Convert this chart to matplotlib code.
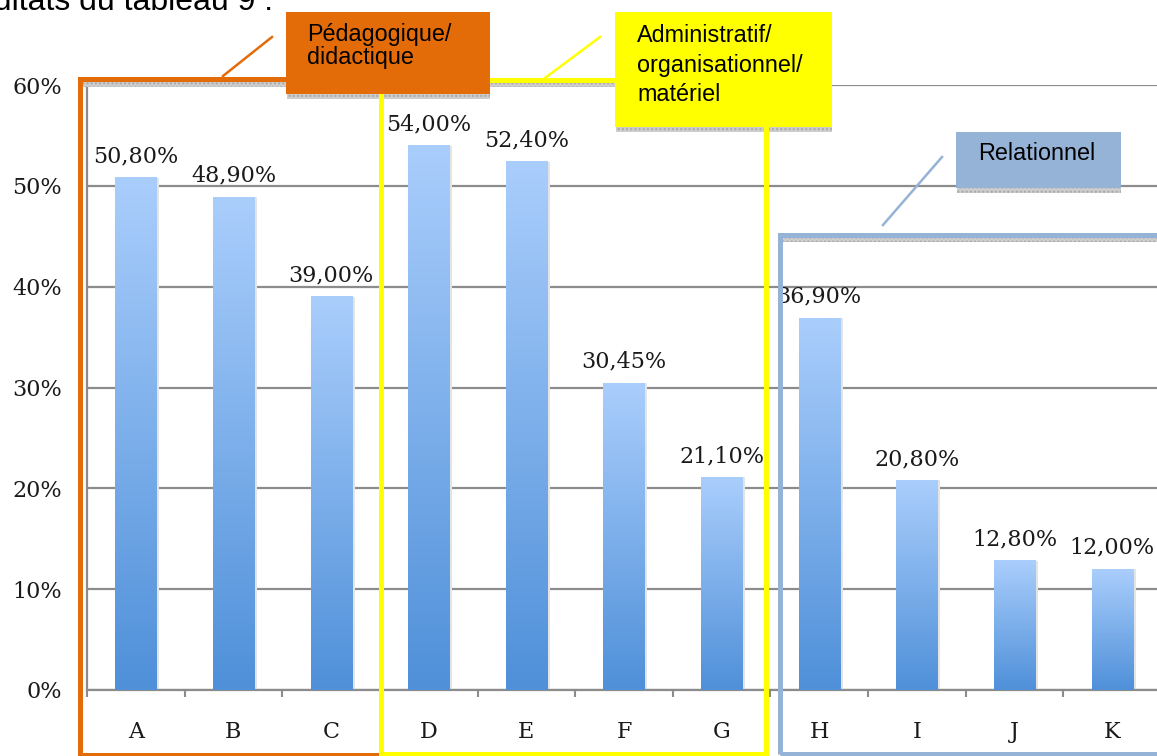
import numpy as np
import matplotlib.pyplot as plt
from matplotlib.patches import Rectangle
from matplotlib.lines import Line2D
from matplotlib.colors import LinearSegmentedColormap

W, H = 1157, 756

categories = ['A', 'B', 'C', 'D', 'E', 'F', 'G', 'H', 'I', 'J', 'K']
values = [0.508, 0.489, 0.390, 0.540, 0.524, 0.3045, 0.211, 0.369, 0.208, 0.128, 0.120]
value_labels = ['50,80%', '48,90%', '39,00%', '54,00%', '52,40%', '30,45%',
                '21,10%', '36,90%', '20,80%', '12,80%', '12,00%']
y_ticks = [0, 0.1, 0.2, 0.3, 0.4, 0.5, 0.6]
y_tick_labels = ['0%', '10%', '20%', '30%', '40%', '50%', '60%']

# groups: (label lines, colour)
group_names = [['Pédagogique/', 'didactique'],
               ['Administratif/', 'organisationnel/', 'matériel'],
               ['Relationnel']]
group_colors = ['#E36C09', '#FFFF00', '#95B3D7']


def fx(x):
    return x / W


def fy(y):
    return 1 - y / H


fig = plt.figure(figsize=(W / 100, H / 100), dpi=100)
fig.patch.set_facecolor('white')

ax = fig.add_axes([fx(87), fy(690), fx(1161) - fx(87), fy(85.2) - fy(690)])
x = np.arange(len(categories))
bw = 0.42

# bar shadows then gradient bars
ax.bar(x + 0.02, values, width=bw + 0.02, color='#e4e4e4', zorder=2)
bars = ax.bar(x, values, width=bw, color='none', zorder=3)
cmap = LinearSegmentedColormap.from_list('bl', ['#4F90D9', '#AACEFC'])
grad = np.linspace(0, 1, 256).reshape(-1, 1)
for b in bars:
    x0, y0 = b.get_x(), b.get_y()
    ax.imshow(grad, extent=[x0, x0 + b.get_width(), y0, y0 + b.get_height()],
              origin='lower', aspect='auto', cmap=cmap, zorder=3)

for xi, v, lab in zip(x, values, value_labels):
    ax.annotate(lab, (xi, v), xytext=(0, 11), textcoords='offset points',
                ha='center', va='baseline', fontsize=16, family='DejaVu Serif',
                color='#1a1a1a', zorder=4)

ax.set_xlim(-0.5, len(categories) - 0.5)
ax.set_ylim(0, 0.6)
ax.set_yticks(y_ticks)
ax.set_yticklabels(y_tick_labels, family='DejaVu Serif', fontsize=16)
ax.set_xticks(x)
ax.set_xticklabels(categories, family='DejaVu Serif', fontsize=16)
ax.set_xticks(np.arange(-0.5, len(categories), 1), minor=True)
ax.tick_params(axis='y', length=0, pad=18, colors='#1a1a1a')
ax.tick_params(axis='x', which='major', length=0, pad=22, colors='#1a1a1a')
ax.tick_params(axis='x', which='minor', length=5, width=1.5, color='#8c8c8c')
ax.yaxis.grid(True, color='#8c8c8c', linewidth=1.6)
ax.set_axisbelow(True)
for s in ['top', 'right']:
    ax.spines[s].set_visible(False)
for s in ['left', 'bottom']:
    ax.spines[s].set_color('#8c8c8c')
    ax.spines[s].set_linewidth(1.6)


def px_rect(x0, y0, x1, y1, **kw):
    r = Rectangle((fx(x0), fy(y1)), fx(x1) - fx(x0), fy(y0) - fy(y1),
                  transform=fig.transFigure, **kw)
    fig.add_artist(r)
    return r


def px_line(x0, y0, x1, y1, color):
    fig.add_artist(Line2D([fx(x0), fx(x1)], [fy(y0), fy(y1)], color=color,
                          linewidth=1.8, transform=fig.transFigure))


shadow = dict(facecolor='#cdcdcd', edgecolor='#a8a8a8', hatch='....',
              linewidth=0, zorder=2)

# group frames
px_rect(82, 82, 287, 87, **shadow)
px_rect(383, 82, 615, 87, **shadow)
px_rect(783, 237, 1160, 242, **shadow)
px_rect(80, 79.5, 381, 755, fill=False, edgecolor=group_colors[0],
        linewidth=3.6, zorder=3)
px_rect(380.5, 79.5, 766, 754, fill=False, edgecolor=group_colors[1],
        linewidth=3.6, zorder=3)
px_rect(780, 234.5, 1165, 754, fill=False, edgecolor=group_colors[2],
        linewidth=3.6, zorder=3)

# connectors
px_line(223, 76, 272, 37, group_colors[0])
px_line(545, 78, 600, 37, group_colors[1])
px_line(883, 225, 942, 157, group_colors[2])

# label boxes
boxes = [(286, 12, 490, 94, 307, [41, 64]),
         (615, 12, 832, 127, 637, [42, 72, 101]),
         (956, 132, 1121, 188, 978, [160])]
for (bx0, by0, bx1, by1, tx, baselines), names, col in zip(boxes, group_names, group_colors):
    px_rect(bx0 + 1, by1, bx1, by1 + 5, **shadow)
    px_rect(bx0, by0, bx1, by1, facecolor=col, edgecolor='none', zorder=4)
    for name, bl in zip(names, baselines):
        fig.text(fx(tx), fy(bl), name, ha='left', va='baseline', fontsize=16.8,
                 family='Liberation Sans', color='black', zorder=5)

fig.text(fx(273), fy(10), 'Résultats du tableau 9 :', ha='right', va='baseline',
         fontsize=23, family='Liberation Sans', color='black')

fig.savefig('out.png', dpi=100)
